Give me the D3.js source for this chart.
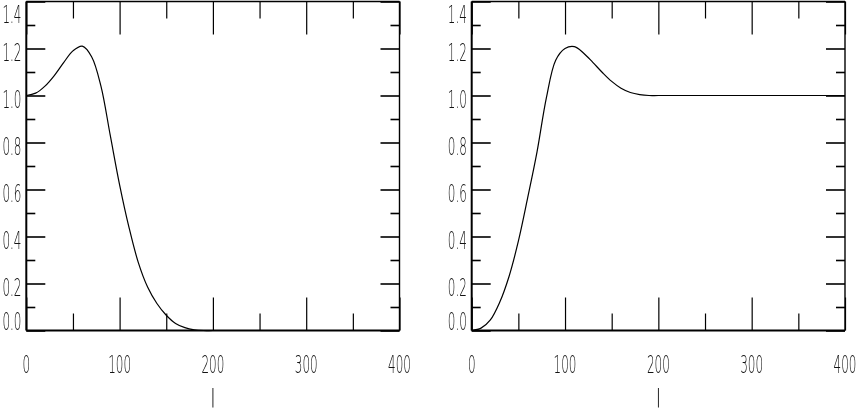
<!DOCTYPE html>
<html><head><meta charset="utf-8">
<script src="https://cdn.jsdelivr.net/npm/d3@7"></script>
<style>html,body{margin:0;padding:0;background:#fff;}svg{display:block;}</style>
</head><body>
<svg id="c" width="857" height="408"></svg>
<script>
// ---- data ----
const xSamples = [0,10,20,30,40,50,60,70,80,90,100,110,120,130,140,150,160,170,180,190,200,250,300,350,400];
const leftValues = [1.0,1.01,1.04,1.085,1.14,1.19,1.21,1.165,1.04,0.83,0.62,0.44,0.29,0.185,0.115,0.065,0.03,0.012,0.003,0,0,0,0,0,0];
const rightValues = [0,0.01,0.045,0.12,0.23,0.38,0.565,0.76,0.99,1.15,1.2,1.208,1.18,1.14,1.098,1.06,1.031,1.013,1.004,1.0,1.0,1.0,1.0,1.0,1.0];
const xMajorTicks = [0,100,200,300,400];
const xMinorTicks = [50,150,250,350];
const xTickLabels = ["0","100","200","300","400"];
const yMajorTicks = [0,0.2,0.4,0.6,0.8,1.0,1.2,1.4];
const yMinorTicks = [0.1,0.3,0.5,0.7,0.9,1.1,1.3];
const yTickLabels = ["0.0","0.2","0.4","0.6","0.8","1.0","1.2","1.4"];
const xTitle = "|";

const svg = d3.select("#c");
const FONT = "'DejaVu Sans', sans-serif";

function panel(x0, x1, values) {
  const x = d3.scaleLinear().domain([0,400]).range([x0, x1]);
  const y = d3.scaleLinear().domain([0,1.4]).range([330.5, 1.5]);
  const g = svg.append("g");
  const yTop = y(1.4), yBot = y(0);

  const mk = (axis, tr, w) => {
    const a = g.append("g").attr("transform", tr).call(axis);
    a.select(".domain").remove();
    a.selectAll("line").attr("stroke", "#000").attr("stroke-width", w);
    a.selectAll("text").remove();
  };
  mk(d3.axisBottom(x).tickValues(xMajorTicks).tickSize(-33).tickFormat(""), `translate(0,${yBot})`, 1.2);
  mk(d3.axisBottom(x).tickValues(xMinorTicks).tickSize(-17).tickFormat(""), `translate(0,${yBot})`, 1.2);
  mk(d3.axisTop(x).tickValues(xMajorTicks).tickSize(-33).tickFormat(""), `translate(0,${yTop})`, 1.2);
  mk(d3.axisTop(x).tickValues(xMinorTicks).tickSize(-17).tickFormat(""), `translate(0,${yTop})`, 1.2);
  mk(d3.axisLeft(y).tickValues(yMajorTicks).tickSize(-19).tickFormat(""), `translate(${x0},0)`, 1.6);
  mk(d3.axisLeft(y).tickValues(yMinorTicks).tickSize(-9).tickFormat(""), `translate(${x0},0)`, 1.6);
  mk(d3.axisRight(y).tickValues(yMajorTicks).tickSize(-19).tickFormat(""), `translate(${x1},0)`, 1.6);
  mk(d3.axisRight(y).tickValues(yMinorTicks).tickSize(-9).tickFormat(""), `translate(${x1},0)`, 1.6);

  g.append("line").attr("x1", x0).attr("x2", x1).attr("y1", yBot).attr("y2", yBot).attr("stroke","#000").attr("stroke-width",2.2);
  g.append("line").attr("x1", x0).attr("x2", x0).attr("y1", yTop).attr("y2", yBot).attr("stroke","#000").attr("stroke-width",2);
  g.append("line").attr("x1", x0).attr("x2", x1).attr("y1", yTop).attr("y2", yTop).attr("stroke","#000").attr("stroke-width",1.4);
  g.append("line").attr("x1", x1).attr("x2", x1).attr("y1", yTop).attr("y2", yBot).attr("stroke","#000").attr("stroke-width",1.4);

  const tg = g.append("g").attr("opacity", 0.99);
  const lab = (tx, ty, s, anchor) => tg.append("text")
    .attr("transform", `translate(${tx},${ty}) scale(0.5,1)`)
    .attr("text-anchor", anchor)
    .attr("font-family", FONT).attr("font-weight", 200).attr("font-size", 24)
    .attr("fill", "#111").text(s);
  xMajorTicks.forEach((v,i) => lab(x(v), 373, xTickLabels[i], "middle"));
  yMajorTicks.forEach((v,i) => {
    const by = Math.min(Math.max(y(v) + 12, 22.5), 330);
    lab(x0 - 4.8, by, yTickLabels[i], "end");
  });
  tg.append("text").attr("x", (x0+x1)/2).attr("y", 403).attr("text-anchor","middle")
    .attr("font-family", FONT).attr("font-weight", 200).attr("font-size", 20)
    .attr("fill", "#111").text(xTitle);

  const line = d3.line().x((d,i) => x(xSamples[i])).y(d => y(d)).curve(d3.curveCatmullRom.alpha(0.5));
  g.append("path").datum(values).attr("d", line)
    .attr("fill","none").attr("stroke","#000").attr("stroke-width",1.2);
}

panel(26.3, 399.5, leftValues);
panel(471.7, 845, rightValues);
</script>
</body></html>
